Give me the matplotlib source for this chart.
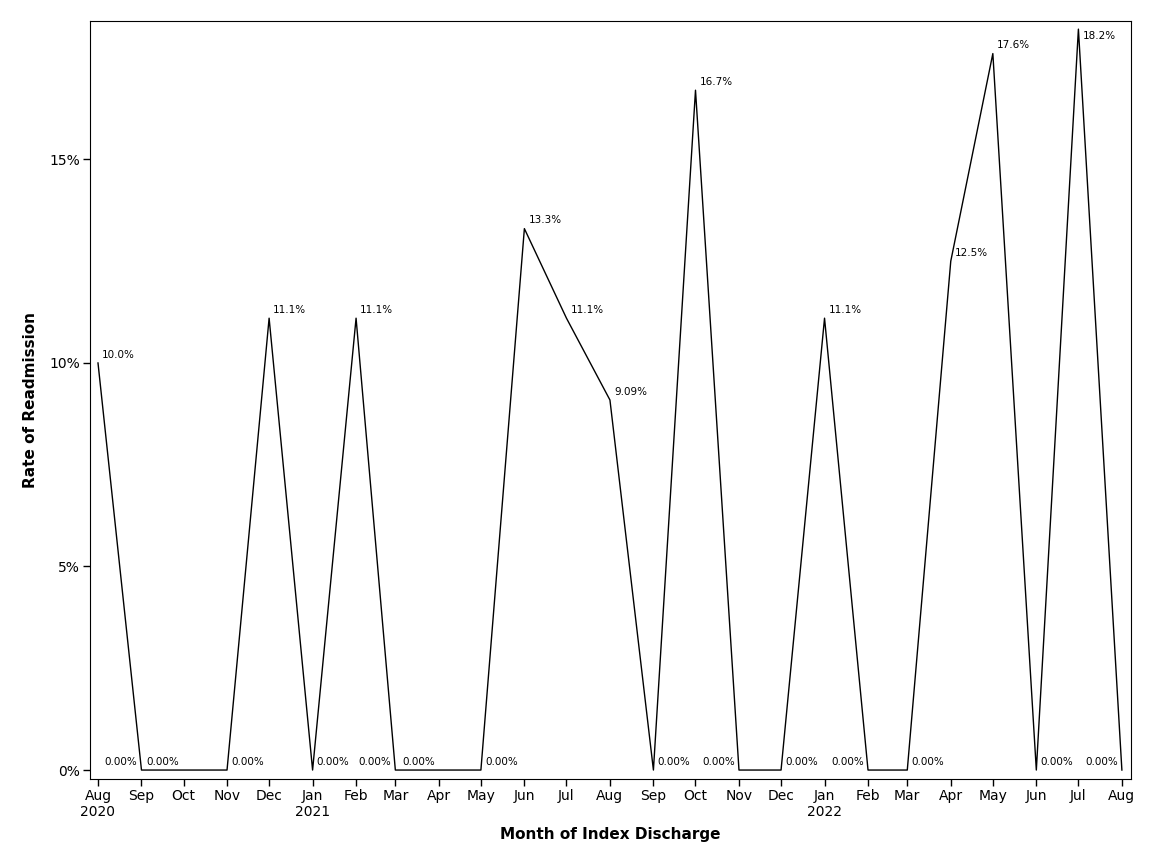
#!usr/bin/env python

import datetime as dt
import numpy as np
import matplotlib
matplotlib.use('Agg')
import matplotlib.pyplot as plt
import matplotlib.dates as mdates
from matplotlib.ticker import FuncFormatter

# monthly readmission rate (%), Aug 2020 .. Aug 2022
months = ['2020-08', '2020-09', '2020-10', '2020-11', '2020-12',
          '2021-01', '2021-02', '2021-03', '2021-04', '2021-05', '2021-06',
          '2021-07', '2021-08', '2021-09', '2021-10', '2021-11', '2021-12',
          '2022-01', '2022-02', '2022-03', '2022-04', '2022-05', '2022-06',
          '2022-07', '2022-08']
rates = [10.0, 0, 0, 0, 11.1, 0, 11.1, 0, 0, 0, 13.3, 11.1, 9.09, 0, 16.7,
         0, 0, 11.1, 0, 0, 12.5, 17.6, 0, 18.2, 0]
point_labels = ['10.0%', '0.00%', '0.00%', '0.00%', '11.1%', '0.00%', '11.1%',
                '0.00%', '0.00%', '0.00%', '13.3%', '11.1%', '9.09%', '0.00%',
                '16.7%', '0.00%', '0.00%', '11.1%', '0.00%', '0.00%', '12.5%',
                '17.6%', '0.00%', '18.2%', '0.00%']
# which side the label sits on (r = right, l = left, b = right and below)
label_side = ['r', 'l', 'l', 'r', 'r', 'r', 'r', 'l', 'l', 'r', 'r', 'r', 'r',
              'r', 'r', 'l', 'r', 'r', 'l', 'r', 'r', 'r', 'r', 'b', 'l']

dates = [dt.datetime.strptime(m, '%Y-%m') for m in months]

fig = plt.figure(figsize=(11.52, 8.64), dpi=100)
ax = fig.add_axes([90/1152, 1 - 779/864, (1131-90)/1152, (779-21)/864])

ax.plot(dates, rates, color='black', linewidth=1)

for d, r, lab, side in zip(dates, rates, point_labels, label_side):
    x = mdates.date2num(d)
    if side == 'r':
        ax.annotate(lab, (x, r), xytext=(3, 6), textcoords='offset points',
                    ha='left', va='center', fontsize=7.5)
    elif side == 'l':
        ax.annotate(lab, (x, r), xytext=(-3, 6), textcoords='offset points',
                    ha='right', va='center', fontsize=7.5)
    else:
        ax.annotate(lab, (x, r), xytext=(3, -5), textcoords='offset points',
                    ha='left', va='center', fontsize=7.5)

ax.set_xlim(mdates.date2num(dates[0]) - 5.7, mdates.date2num(dates[-1]) + 6.5)
ax.set_ylim(-0.22, 18.4)

ax.set_xticks([mdates.date2num(d) for d in dates])
xt = []
for d in dates:
    if d.month == 1 or d == dates[0]:
        xt.append(d.strftime('%b') + '\n' + str(d.year))
    else:
        xt.append(d.strftime('%b'))
ax.set_xticklabels(xt, fontsize=10)

ax.set_yticks([0, 5, 10, 15])
ax.yaxis.set_major_formatter(FuncFormatter(lambda v, p: '{:.0f}%'.format(v)))
ax.tick_params(axis='y', labelsize=10)
ax.tick_params(direction='out', length=5, width=1, pad=2)

ax.set_xlabel('Month of Index Discharge', fontsize=11, fontweight='bold', labelpad=6)
ax.set_ylabel('Rate of Readmission', fontsize=11, fontweight='bold', labelpad=8)

fig.savefig('out.png', dpi=100)
